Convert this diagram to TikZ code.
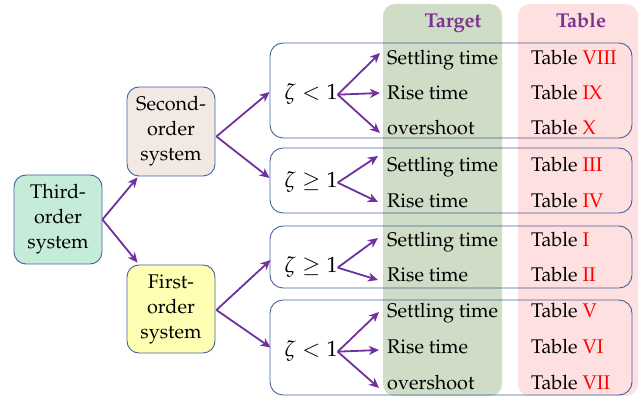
\documentclass[tikz,border=0pt]{standalone}
\usepackage[T1]{fontenc}
\usepackage{mathpazo}
\usetikzlibrary{arrows.meta,calc}

\definecolor{edgeblue}{HTML}{4262A0}
\definecolor{arrowpurple}{HTML}{7030A0}
\definecolor{headpurple}{HTML}{7A3391}
\definecolor{thirdfill}{HTML}{C4ECD9}
\definecolor{secondfill}{HTML}{F2E9E4}
\definecolor{firstfill}{HTML}{FFFFB3}
\definecolor{targetfill}{HTML}{CFDCC6}
\definecolor{tablefill}{HTML}{FFE0E0}

\tikzset{
  sysbox/.style={draw=edgeblue, line width=0.9pt, rounded corners=12pt,
    minimum width=88pt, minimum height=89pt, align=center, inner sep=2pt},
  grpbox/.style={draw=edgeblue, line width=0.9pt, rounded corners=13pt,
    minimum width=362pt, inner sep=0pt},
  arr/.style={draw=arrowpurple, line width=1.8pt,
    -{Stealth[length=10pt,width=9pt,inset=3pt]}},
  zeta/.style={inner sep=0pt, anchor=base, font=\fontsize{22}{26}\selectfont},
  tgt/.style={inner sep=0pt, anchor=base west},
  tabref/.style={inner sep=0pt, anchor=base west},
  head/.style={inner sep=0pt, anchor=base, text=headpurple, font=\fontsize{20}{25}\selectfont\bfseries},
}
\newcommand{\rn}[1]{\textcolor{red}{#1}}

\begin{document}
\begin{tikzpicture}[x=1pt,y=-1pt,font=\fontsize{19.8}{25}\selectfont]
\useasboundingbox (0,0) rectangle (641,398);

% column backgrounds
\fill[targetfill, rounded corners=12pt] (383,4) rectangle (502,396);
\fill[tablefill, rounded corners=12pt] (518,4) rectangle (638,396);
\node[head] (hTarget) at (453,28) {Target};
\node[head] (hTable) at (581,28) {Table};

% system boxes
\node[sysbox, fill=thirdfill] (third) at (58,219.5) {Third-\\order\\system};
\node[sysbox, fill=secondfill] (sec) at (171,131.5) {Second-\\order\\system};
\node[sysbox, fill=firstfill, minimum height=88pt] (first) at (171,309) {First-\\order\\system};

% group frames
\node[grpbox, minimum height=95pt] (g1) at (451,90.5) {};
\node[grpbox, minimum height=65pt] (g2) at (451,180.5) {};
\node[grpbox, minimum height=62pt] (g3) at (451,257) {};
\node[grpbox, minimum height=95pt] (g4) at (451,347.5) {};

% damping conditions
\node[zeta] (z1) at (311,100) {$\zeta<1$};
\node[zeta] (z2) at (311,188) {$\zeta\geq1$};
\node[zeta] (z3) at (311,273) {$\zeta\geq1$};
\node[zeta] (z4) at (311,357) {$\zeta<1$};

% targets
\node[tgt] (s1) at (387,65) {Settling time};
\node[tgt] (r1) at (387,100) {Rise time};
\node[tgt] (o1) at (387,135) {overshoot};
\node[tgt] (s2) at (387,172) {Settling time};
\node[tgt] (r2) at (387,208) {Rise time};
\node[tgt] (s3) at (387,247) {Settling time};
\node[tgt] (r3) at (387,282) {Rise time};
\node[tgt] (s4) at (387,318) {Settling time};
\node[tgt] (r4) at (387,354) {Rise time};
\node[tgt] (o4) at (387,390) {overshoot};

% table references
\node[tabref] (t1) at (531,65) {Table \rn{VIII}};
\node[tabref] (t2) at (531,100) {Table \rn{IX}};
\node[tabref] (t3) at (531,135) {Table \rn{X}};
\node[tabref] (t4) at (531,172) {Table \rn{III}};
\node[tabref] (t5) at (531,208) {Table \rn{IV}};
\node[tabref] (t6) at (531,247) {Table \rn{I}};
\node[tabref] (t7) at (531,282) {Table \rn{II}};
\node[tabref] (t8) at (531,318) {Table \rn{V}};
\node[tabref] (t9) at (531,354) {Table \rn{VI}};
\node[tabref] (t10) at (531,390) {Table \rn{VII}};

% system tree
\draw[arr] (third.east) -- ($(sec.south west)+(11,1)$);
\draw[arr] (third.east) -- ($(first.north west)+(11,-2)$);
\draw[arr] ($(sec.east)+(1,5)$) -- ($(g1.west)+(0,1.5)$);
\draw[arr] ($(sec.east)+(1,5)$) -- ($(g2.west)+(0,-2.5)$);
\draw[arr] ($(first.east)+(1,1)$) -- ($(g3.west)+(1,3)$);
\draw[arr] ($(first.east)+(1,1)$) -- ($(g4.west)+(1,0)$);

% condition to target
\draw[arr] (z1.east) -- ($(s1.base west)+(-7,-12)$);
\draw[arr] (z1.east) -- ($(r1.base west)+(-7,-7)$);
\draw[arr] (z1.east) -- ($(o1.base west)+(-7,-2)$);
\draw[arr] (z2.east) -- ($(s2.base west)+(-9,-16)$);
\draw[arr] (z2.east) -- ($(r2.base west)+(-9,-6)$);
\draw[arr] (z3.east) -- ($(s3.base west)+(-9,-9)$);
\draw[arr] (z3.east) -- ($(r3.base west)+(-9,-2)$);
\draw[arr] (z4.east) -- ($(s4.base west)+(-8,-6)$);
\draw[arr] (z4.east) -- ($(r4.base west)+(-8,-4)$);
\draw[arr] (z4.east) -- ($(o4.base west)+(-8,-2)$);
\end{tikzpicture}
\end{document}
